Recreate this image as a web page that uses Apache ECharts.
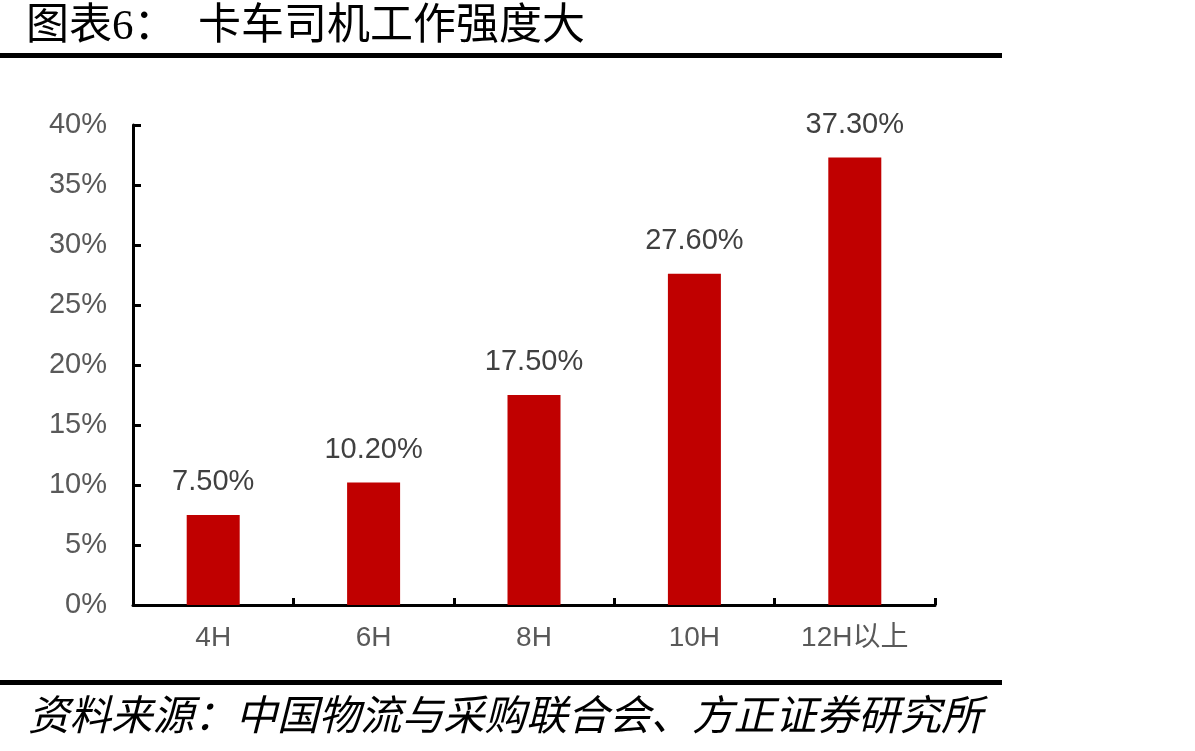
<!DOCTYPE html>
<html>
<head>
<meta charset="utf-8">
<script src="https://cdn.jsdelivr.net/npm/echarts@6/dist/echarts.min.js"></script>
<style>
html, body { margin: 0; padding: 0; background: #fff; }
#chart { width: 1195px; height: 751px; }
</style>
</head>
<body>
<div id="chart"></div>
<script>
// 卡车司机工作强度
var categories = ['4H', '6H', '8H', '10H', '12H以上'];
var shares = [7.5, 10.2, 17.5, 27.6, 37.3];
var titleText = '图表6：  卡车司机工作强度大';
var sourceText = '资料来源：中国物流与采购联合会、方正证券研究所';

var myChart = echarts.init(document.getElementById('chart'));
var axisFont = 'Liberation Sans, Arial, Noto Sans CJK SC, sans-serif';

var option = {
	animation: false,
	backgroundColor: '#fff',
	grid: {
		left: 133,
		right: 260,
		top: 125,
		bottom: 146
	},
	graphic: [
		{
			type: 'text', left: 26, top: 6,
			style: { text: titleText, fontSize: 43, fill: '#000', fontFamily: 'Liberation Serif, Noto Sans CJK SC, serif' }
		},
		{
			type: 'rect', shape: { x: 0, y: 53, width: 1002, height: 5 },
			style: { fill: '#000' }
		},
		{
			type: 'rect', shape: { x: 0, y: 680, width: 1002, height: 5 },
			style: { fill: '#000' }
		},
		{
			type: 'text', left: 28, top: 693,
			style: { text: sourceText, fontSize: 41.5, fontStyle: 'italic', fill: '#000', fontFamily: 'Noto Sans CJK SC, sans-serif' }
		}
	],
	xAxis: {
		type: 'category',
		data: categories,
		axisLine: { lineStyle: { color: '#000', width: 3 } },
		axisTick: { show: true, inside: true, length: 7, lineStyle: { color: '#000', width: 3 } },
		axisLabel: { color: '#595959', fontSize: 28, margin: 19, fontFamily: axisFont }
	},
	yAxis: {
		type: 'value',
		min: 0,
		max: 40,
		interval: 5,
		axisLine: { show: true, lineStyle: { color: '#000', width: 3 } },
		axisTick: { show: true, inside: true, length: 8, lineStyle: { color: '#000', width: 3 } },
		splitLine: { show: false },
		axisLabel: { color: '#595959', fontSize: 29, margin: 26, formatter: '{value}%', fontFamily: axisFont }
	},
	series: [{
		type: 'bar',
		data: shares,
		barWidth: 53,
		itemStyle: { color: '#C00000' },
		label: {
			show: true,
			position: 'top',
			distance: 18,
			color: '#404040',
			fontSize: 29,
			fontFamily: axisFont,
			formatter: function (p) { return p.value.toFixed(2) + '%'; }
		}
	}]
};
myChart.setOption(option);
</script>
</body>
</html>
